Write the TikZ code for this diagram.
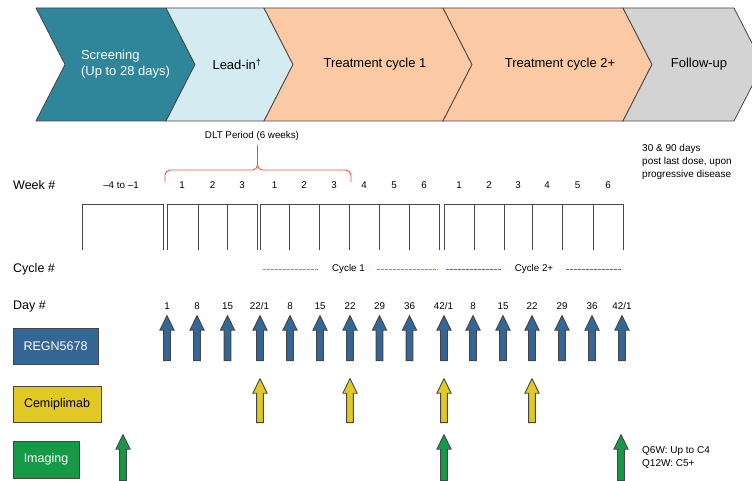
\documentclass[tikz,border=0pt]{standalone}
\usepackage{fontspec}
\setmainfont{Liberation Sans}
\usetikzlibrary{shapes.arrows}
\usepackage{xcolor}
\definecolor{screenteal}{RGB}{47,133,153}
\definecolor{leadblue}{RGB}{211,235,241}
\definecolor{treatpeach}{RGB}{252,201,165}
\definecolor{followgrey}{RGB}{211,211,211}
\definecolor{regnblue}{RGB}{52,103,150}
\definecolor{cemiyellow}{RGB}{226,200,34}
\definecolor{imaggreen}{RGB}{22,154,72}
\definecolor{dltred}{RGB}{240,78,58}
\definecolor{cycorange}{RGB}{242,110,70}
\definecolor{cycpurple}{RGB}{150,70,180}
\definecolor{linegrey}{RGB}{70,70,70}
\tikzstyle{phase} = [draw=linegrey, 
line width=0.8pt]
\tikzstyle{phasetext} = [inner sep=0pt, 
align=center, 
font=\fontsize{13}{16}\selectfont]
\tikzstyle{rowlabel} = [anchor=west, 
inner sep=0pt, 
font=\fontsize{12.5}{15}\selectfont]
\tikzstyle{num} = [inner sep=0pt, 
font=\fontsize{9.8}{11}\selectfont]
\tikzstyle{weekbox} = [draw=linegrey, 
line width=0.8pt]
\tikzstyle{cycone} = [draw=cycorange, 
line width=0.8pt, 
dash pattern=on 2.5pt off 1.5pt]
\tikzstyle{cyctwo} = [draw=cycpurple, 
line width=0.8pt, 
dash pattern=on 2.5pt off 1.5pt]
\tikzstyle{drug} = [rectangle, 
draw=linegrey, 
line width=0.8pt, 
inner sep=0pt, 
font=\fontsize{12.5}{15}\selectfont]
\tikzstyle{dose} = [single arrow, 
rotate=90, 
draw=linegrey, 
line width=0.9pt, 
inner xsep=0pt, 
inner ysep=2.9pt, 
minimum width=13.5pt, 
single arrow head extend=3.8pt, 
single arrow tip angle=52]
\tikzstyle{note} = [anchor=west, 
inner sep=0pt, 
align=left, 
font=\fontsize{10}{13}\selectfont]

\begin{document}
\begin{tikzpicture}[x=1pt, y=-1pt]
	\useasboundingbox (0,0) rectangle (752,481);
	
	% phase banner
	\draw [phase, fill=screenteal] (36,8) -- (166,8) -- (195,64.5) -- (166,121) -- (36,121) -- (65,64.5) -- cycle;
	\draw [phase, fill=leadblue] (166,8) -- (264,8) -- (293,64.5) -- (264,121) -- (166,121) -- (195,64.5) -- cycle;
	\draw [phase, fill=treatpeach] (264,8) -- (443,8) -- (472,64.5) -- (443,121) -- (264,121) -- (293,64.5) -- cycle;
	\draw [phase, fill=treatpeach] (443,8) -- (623,8) -- (652,64.5) -- (623,121) -- (443,121) -- (472,64.5) -- cycle;
	\draw [phase, fill=followgrey] (623,8) -- (734,8) -- (763,64.5) -- (734,121) -- (623,121) -- (652,64.5) -- cycle;
	
	\node (screen) [phasetext, text=white, align=left] at (125.5,64.5) {Screening\\(Up to 28 days)};
	\node (lead) [phasetext] at (237,64.5) {Lead-in\textsuperscript{\textdagger}};
	\node (treat1) [phasetext] at (375,64.5) {Treatment cycle 1};
	\node (treat2) [phasetext] at (560,64.5) {Treatment cycle 2+};
	\node (follow) [phasetext] at (699,64.5) {Follow-up};
	
	% DLT bracket
	\node (dlt) [num] at (252,136) {DLT Period (6 weeks)};
	\draw [dltred, line width=0.9pt, rounded corners=5pt] (165,182) |- (257.5,170) -- (257.5,145);
	\draw [dltred, line width=0.9pt, rounded corners=5pt] (351,182) |- (257.5,170) -- (257.5,145);
	\node (fup) [note] at (642,162) {30 \& 90 days\\post last dose, upon\\progressive disease};
	
	% weeks
	\node (week) [rowlabel] at (13,185) {Week \#};
	\node (wk0) [num] at (121,185) {\textendash4 to \textendash1};
	\node (wk1) [num] at (182,185) {1};
	\node (wk2) [num] at (212.5,185) {2};
	\node (wk3) [num] at (242,185) {3};
	\node (wk4) [num] at (274.5,185) {1};
	\node (wk5) [num] at (304,185) {2};
	\node (wk6) [num] at (334,185) {3};
	\node (wk7) [num] at (364,185) {4};
	\node (wk8) [num] at (394,185) {5};
	\node (wk9) [num] at (424,185) {6};
	\node (wk10) [num] at (459,185) {1};
	\node (wk11) [num] at (489,185) {2};
	\node (wk12) [num] at (518,185) {3};
	\node (wk13) [num] at (547,185) {4};
	\node (wk14) [num] at (577.5,185) {5};
	\node (wk15) [num] at (608,185) {6};
	
	\draw [weekbox] (82,250) |- (163,204) -- (163,250);
	\draw [weekbox] (167,250) |- (257,204) -- (257,250);
	\draw [weekbox] (198,204) -- (198,250) (227,204) -- (227,250);
	\draw [weekbox] (260,250) |- (439,204) -- (439,250);
	\draw [weekbox] (289,204) -- (289,250) (319,204) -- (319,250) (349,204) -- (349,250) (379,204) -- (379,250) (409,204) -- (409,250);
	\draw [weekbox] (444,250) |- (623,204) -- (623,250);
	\draw [weekbox] (474,204) -- (474,250) (504,204) -- (504,250) (532,204) -- (532,250) (562,204) -- (562,250) (593,204) -- (593,250);
	
	% cycles
	\node (cycle) [rowlabel] at (13,269) {Cycle \#};
	\node (cyc1) [num] at (348.5,269) {Cycle 1};
	\node (cyc2) [num] at (534,269) {Cycle 2+};
	\draw [cycone] (263,269) -- (319,269);
	\draw [cycone] (377,269) -- (438,269);
	\draw [cyctwo] (446,269) -- (502,269);
	\draw [cyctwo] (566,269) -- (622,269);
	
	% days
	\node (day) [rowlabel] at (13,306) {Day \#};
	\node (d1) [num] at (167,306) {1};
	\node (d2) [num] at (197,306) {8};
	\node (d3) [num] at (227.5,306) {15};
	\node (d4) [num] at (259.5,306) {22/1};
	\node (d5) [num] at (290,306) {8};
	\node (d6) [num] at (320,306) {15};
	\node (d7) [num] at (350,306) {22};
	\node (d8) [num] at (379.5,306) {29};
	\node (d9) [num] at (409.5,306) {36};
	\node (d10) [num] at (443.5,306) {42/1};
	\node (d11) [num] at (473,306) {8};
	\node (d12) [num] at (503,306) {15};
	\node (d13) [num] at (532,306) {22};
	\node (d14) [num] at (562,306) {29};
	\node (d15) [num] at (592,306) {36};
	\node (d16) [num] at (622,306) {42/1};
	
	% treatments
	\node (regn) [drug, fill=regnblue, text=white, minimum width=85pt, minimum height=36pt] at (55.5,346) {REGN5678};
	\node (cemi) [drug, fill=cemiyellow, minimum width=88pt, minimum height=36pt] at (57,404) {Cemiplimab};
	\node (imag) [drug, fill=imaggreen, text=white, minimum width=66pt, minimum height=37pt] at (46,459.5) {Imaging};
	
	\node (r1) [dose, fill=regnblue, minimum height=45pt] at (167,341.5) {};
	\node (r2) [dose, fill=regnblue, minimum height=45pt] at (197,341.5) {};
	\node (r3) [dose, fill=regnblue, minimum height=45pt] at (227.5,341.5) {};
	\node (r4) [dose, fill=regnblue, minimum height=45pt] at (260,341.5) {};
	\node (r5) [dose, fill=regnblue, minimum height=45pt] at (290,341.5) {};
	\node (r6) [dose, fill=regnblue, minimum height=45pt] at (320,341.5) {};
	\node (r7) [dose, fill=regnblue, minimum height=45pt] at (350,341.5) {};
	\node (r8) [dose, fill=regnblue, minimum height=45pt] at (379.5,341.5) {};
	\node (r9) [dose, fill=regnblue, minimum height=45pt] at (409.5,341.5) {};
	\node (r10) [dose, fill=regnblue, minimum height=45pt] at (444,341.5) {};
	\node (r11) [dose, fill=regnblue, minimum height=45pt] at (473,341.5) {};
	\node (r12) [dose, fill=regnblue, minimum height=45pt] at (503,341.5) {};
	\node (r13) [dose, fill=regnblue, minimum height=45pt] at (532,341.5) {};
	\node (r14) [dose, fill=regnblue, minimum height=45pt] at (562,341.5) {};
	\node (r15) [dose, fill=regnblue, minimum height=45pt] at (592,341.5) {};
	\node (r16) [dose, fill=regnblue, minimum height=45pt] at (622,341.5) {};
	
	\node (c1) [dose, fill=cemiyellow, minimum height=44pt] at (260,404) {};
	\node (c2) [dose, fill=cemiyellow, minimum height=44pt] at (350,404) {};
	\node (c3) [dose, fill=cemiyellow, minimum height=44pt] at (444,404) {};
	\node (c4) [dose, fill=cemiyellow, minimum height=44pt] at (532,404) {};
	
	\node (i1) [dose, fill=imaggreen, minimum height=46pt] at (123,461) {};
	\node (i2) [dose, fill=imaggreen, minimum height=46pt] at (444,461) {};
	\node (i3) [dose, fill=imaggreen, minimum height=46pt] at (621,461) {};
	\node (qnote) [note] at (642,457.5) {Q6W: Up to C4\\Q12W: C5+};
	
\end{tikzpicture}
\end{document}
